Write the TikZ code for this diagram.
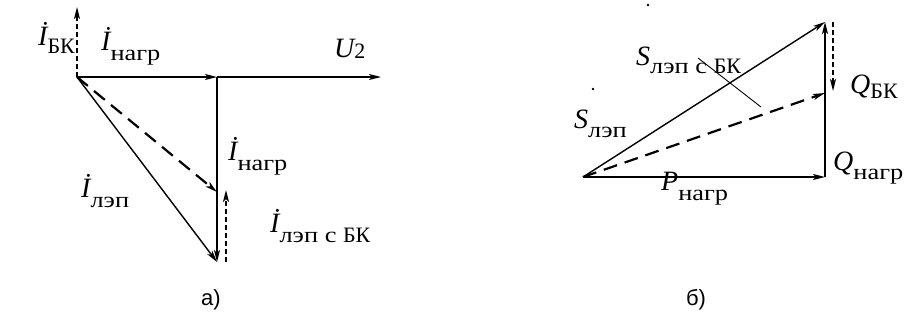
\documentclass[tikz,border=0pt]{standalone}
\usepackage{fontspec}
\setmainfont{Liberation Serif}
\newfontfamily\capfont{Liberation Sans}
\newfontfamily\wideserif[FakeStretch=1.2]{Liberation Serif}
\usetikzlibrary{arrows.meta}
\newcommand{\sw}[1]{{\wideserif #1}}
\newcommand{\vlab}[3][9pt]{{\fontsize{28}{28}\selectfont\itshape #2}\raisebox{-#1}{\fontsize{22}{22}\selectfont #3}}
\begin{document}
\begin{tikzpicture}[x=1pt,y=-1pt,
  vec/.style={line width=1.4pt,-{Stealth[length=12pt,width=6pt,inset=3pt]}},
  dvec/.style={vec,dash pattern=on 14pt off 8pt,line width=2.2pt},
  svec/.style={vec,dash pattern=on 5pt off 3pt,line width=1.4pt},
  lab/.style={anchor=base west,inner sep=0pt},
  captext/.style={inner sep=0pt,font=\capfont\fontsize{22}{22}\selectfont}]
\useasboundingbox (0,0) rectangle (905,327);
% ---- a)
\coordinate (O) at (77,77);
\coordinate (A) at (217,77);
\coordinate (U) at (381,77);
\coordinate (B) at (217,262);
\coordinate (M) at (217,192);
\coordinate (Ib) at (77,7);
\coordinate (Ls) at (226,262);
\coordinate (Le) at (226,190);
\draw[vec] (O) -- (A);
\draw[vec] (A) -- (U);
\draw[vec] (A) -- (B);
\draw[vec] (O) -- (B);
\draw[dvec] (O) -- (M);
\draw[svec] (O) -- (Ib);
\draw[svec] (Ls) -- (Le);
\node[lab] (l1) at (38,45) {\vlab[8pt]{İ}{БК}};
\node[lab] (l2) at (101,50) {\vlab[10pt]{İ}{\sw{нагр}}};
\node[lab] (l3) at (334,57) {\vlab[1pt]{U}{2}};
\node[lab] (l4) at (228,160) {\vlab[10pt]{İ}{\sw{нагр}}};
\node[lab] (l5) at (81,197) {\vlab[10pt]{İ}{\sw{лэп}}};
\node[lab] (l6) at (270,232) {\vlab[10pt]{İ}{\sw{лэп с }БК}};
\node[captext] (ca) at (211,300) {а)};
% ---- b)
\coordinate (P) at (583,177);
\coordinate (Q) at (825,177);
\coordinate (C) at (825,22);
\coordinate (D) at (825,93);
\coordinate (Ds) at (833,22);
\coordinate (De) at (833,91);
\coordinate (T1) at (698,58);
\coordinate (T2) at (761,107);
\draw[vec] (P) -- (Q);
\draw[vec] (Q) -- (C);
\draw[vec] (P) -- (C);
\draw[dvec] (P) -- (D);
\draw[svec] (Ds) -- (De);
\draw[line width=0.9pt] (T1) -- (T2);
\fill (648,5) circle (1.3pt);
\fill (593,89) circle (1.3pt);
\node[lab] (r1) at (636,65) {\vlab[8pt]{S}{\sw{лэп с }БК}};
\node[lab] (r2) at (574,128) {\vlab[9pt]{S}{\sw{лэп}}};
\node[lab] (r3) at (850,93) {\vlab[5pt]{Q}{БК}};
\node[lab] (r4) at (833,170) {\vlab[9pt]{Q}{\sw{нагр}}};
\node[lab] (r5) at (661,190) {\vlab[10pt]{P}{\sw{нагр}}};
\node[captext] (cb) at (696,300) {б)};
\end{tikzpicture}
\end{document}
